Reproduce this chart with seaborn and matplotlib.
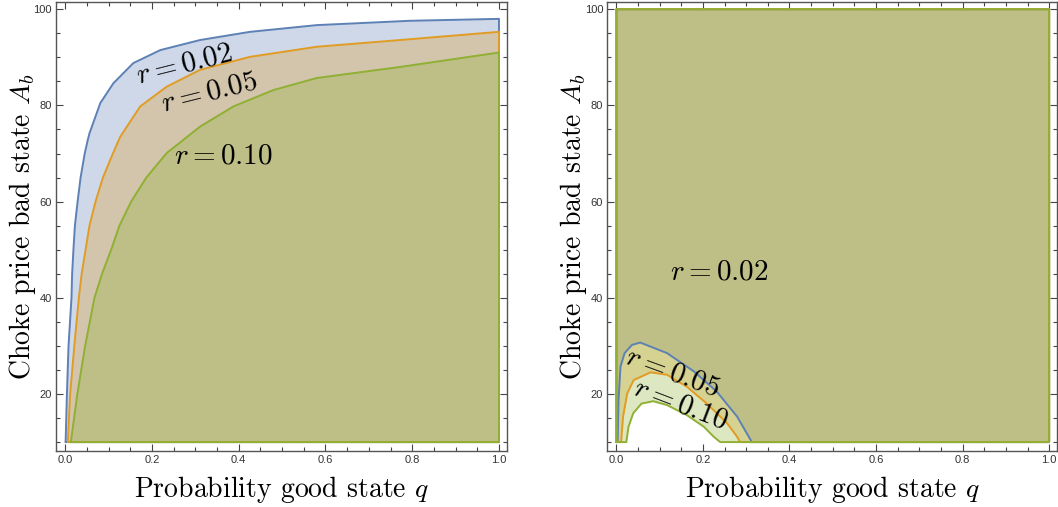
import matplotlib
matplotlib.use("Agg")
import matplotlib.pyplot as plt
from matplotlib.ticker import MultipleLocator
import pandas as pd
import seaborn as sns

# Boundary curves: q (probability good state), A_b (choke price)
# left panel: region below each curve
left_q = {
    "0.02": [0.001, 0.004, 0.0077, 0.0145, 0.016, 0.019, 0.0224, 0.0286, 0.0355, 0.045,
             0.052, 0.056, 0.081, 0.111, 0.157, 0.219, 0.311, 0.426, 0.58, 0.795, 1.0],
    "0.05": [0.006, 0.0115, 0.021, 0.0315, 0.038, 0.047, 0.056, 0.070, 0.087, 0.11, 0.127,
             0.173, 0.234, 0.311, 0.426, 0.58, 0.772, 1.0],
    "0.10": [0.013, 0.028, 0.046, 0.0675, 0.085, 0.106, 0.125, 0.152, 0.187, 0.234, 0.311,
             0.388, 0.48, 0.58, 0.772, 1.0],
}
left_A = {
    "0.02": [10, 20, 30, 40, 45, 50, 55, 60, 65, 70, 72.8, 74.2, 80.5, 84.6, 88.8, 91.5,
             93.6, 95.3, 96.7, 97.6, 98.0],
    "0.05": [10, 20, 30, 40, 45, 50, 55, 60, 65, 70, 73.5, 79.8, 83.9, 87.4, 90.1, 92.2,
             93.6, 95.3],
    "0.10": [10, 20, 30, 40, 45, 50, 55, 60, 65, 70.1, 75.6, 79.8, 83.2, 85.7, 88.0, 91.0],
}

# right panel: region outside each hump
right_q = {
    "0.02": [0.003, 0.005, 0.0095, 0.019, 0.036, 0.055, 0.117, 0.179, 0.232, 0.279, 0.313],
    "0.05": [0.011, 0.0155, 0.025, 0.04, 0.079, 0.117, 0.163, 0.209, 0.256, 0.279, 0.286],
    "0.10": [0.023, 0.028, 0.039, 0.058, 0.085, 0.117, 0.163, 0.202, 0.225, 0.240],
}
right_A = {
    "0.02": [10, 18.7, 25.7, 28.5, 30.2, 30.7, 28.5, 24.7, 20.5, 15.3, 10],
    "0.05": [10, 15.3, 20.1, 22.9, 24.5, 24.0, 21.5, 18.0, 13.9, 11.1, 10],
    "0.10": [10, 13.2, 16.0, 18.0, 18.5, 17.7, 15.6, 13.2, 11.1, 10],
}

rates = ["0.02", "0.05", "0.10"]
colors = {"0.02": "#5E81B5", "0.05": "#E19C24", "0.10": "#8FB032"}
q_min, q_max = 0.0, 1.0
A_min, A_max = 10, 100

sns.set_theme(style="ticks")
plt.rcParams["font.family"] = ["cmr10", "DejaVu Serif"]
plt.rcParams["mathtext.fontset"] = "cm"
plt.rcParams["axes.formatter.use_mathtext"] = True
plt.rcParams["text.color"] = "black"
plt.rcParams["axes.labelcolor"] = "black"


def left_polygon(r):
    q = left_q[r] + [q_max, left_q[r][0]]
    A = left_A[r] + [A_min, A_min]
    return q, A


def right_polygon(r):
    q = [q_min, q_min, q_max, q_max] + right_q[r][::-1] + [q_min]
    A = [A_min, A_max, A_max, A_min] + right_A[r][::-1] + [A_min]
    return q, A


fig = plt.figure(figsize=(10.58, 5.07), dpi=100)
ax1 = fig.add_axes([0.053, 0.110, 0.426, 0.886])
ax2 = fig.add_axes([0.574, 0.110, 0.425, 0.886])

for ax, make_poly in [(ax1, left_polygon), (ax2, right_polygon)]:
    rows = []
    for r in rates:
        q, A = make_poly(r)
        ax.fill(q, A, color=colors[r], alpha=0.3, lw=0)
        rows += [{"q": a, "A": b, "r": r} for a, b in zip(q, A)]
    df = pd.DataFrame(rows)
    sns.lineplot(data=df, x="q", y="A", hue="r", units="r", estimator=None,
                 sort=False, palette=colors, lw=1.4, legend=False, ax=ax)

    ax.set_xlim(-0.021, 1.018)
    ax.set_ylim(8.1, 101.5)
    ax.set_xticks([0, 0.2, 0.4, 0.6, 0.8, 1.0])
    ax.set_xticklabels(["0.0", "0.2", "0.4", "0.6", "0.8", "1.0"])
    ax.set_yticks([20, 40, 60, 80, 100])
    ax.set_yticklabels(["20", "40", "60", "80", "100"])
    ax.xaxis.set_minor_locator(MultipleLocator(0.05))
    ax.yaxis.set_minor_locator(MultipleLocator(5))
    ax.tick_params(which="both", direction="in", top=True, right=True,
                   color="#444444", width=0.8, labelsize=8, labelcolor="#333333", pad=3)
    ax.tick_params(which="major", length=5)
    ax.tick_params(which="minor", length=3)
    for lab in ax.get_xticklabels() + ax.get_yticklabels():
        lab.set_family(["Liberation Sans", "DejaVu Sans"])
    for s in ax.spines.values():
        s.set_color("#555555")
        s.set_linewidth(1.0)
    ax.set_xlabel("Probability good state $q$", fontsize=20, labelpad=6)
    ax.set_ylabel("Choke price bad state $A_b$", fontsize=20, labelpad=-3)

# curve labels
ax1.text(0.276, 88.4, "$r = 0.02$", fontsize=21, rotation=14, ha="center", va="center")
ax1.text(0.332, 82.7, "$r = 0.05$", fontsize=21, rotation=14, ha="center", va="center")
ax1.text(0.364, 69.5, "$r = 0.10$", fontsize=21, rotation=0, ha="center", va="center")
ax2.text(0.238, 45.2, "$r = 0.02$", fontsize=21, rotation=0, ha="center", va="center")
ax2.text(0.129, 24.4, "$r = 0.05$", fontsize=21, rotation=-20, ha="center", va="center")
ax2.text(0.148, 17.7, "$r = 0.10$", fontsize=21, rotation=-21, ha="center", va="center")

fig.savefig("out.png", dpi=100)
